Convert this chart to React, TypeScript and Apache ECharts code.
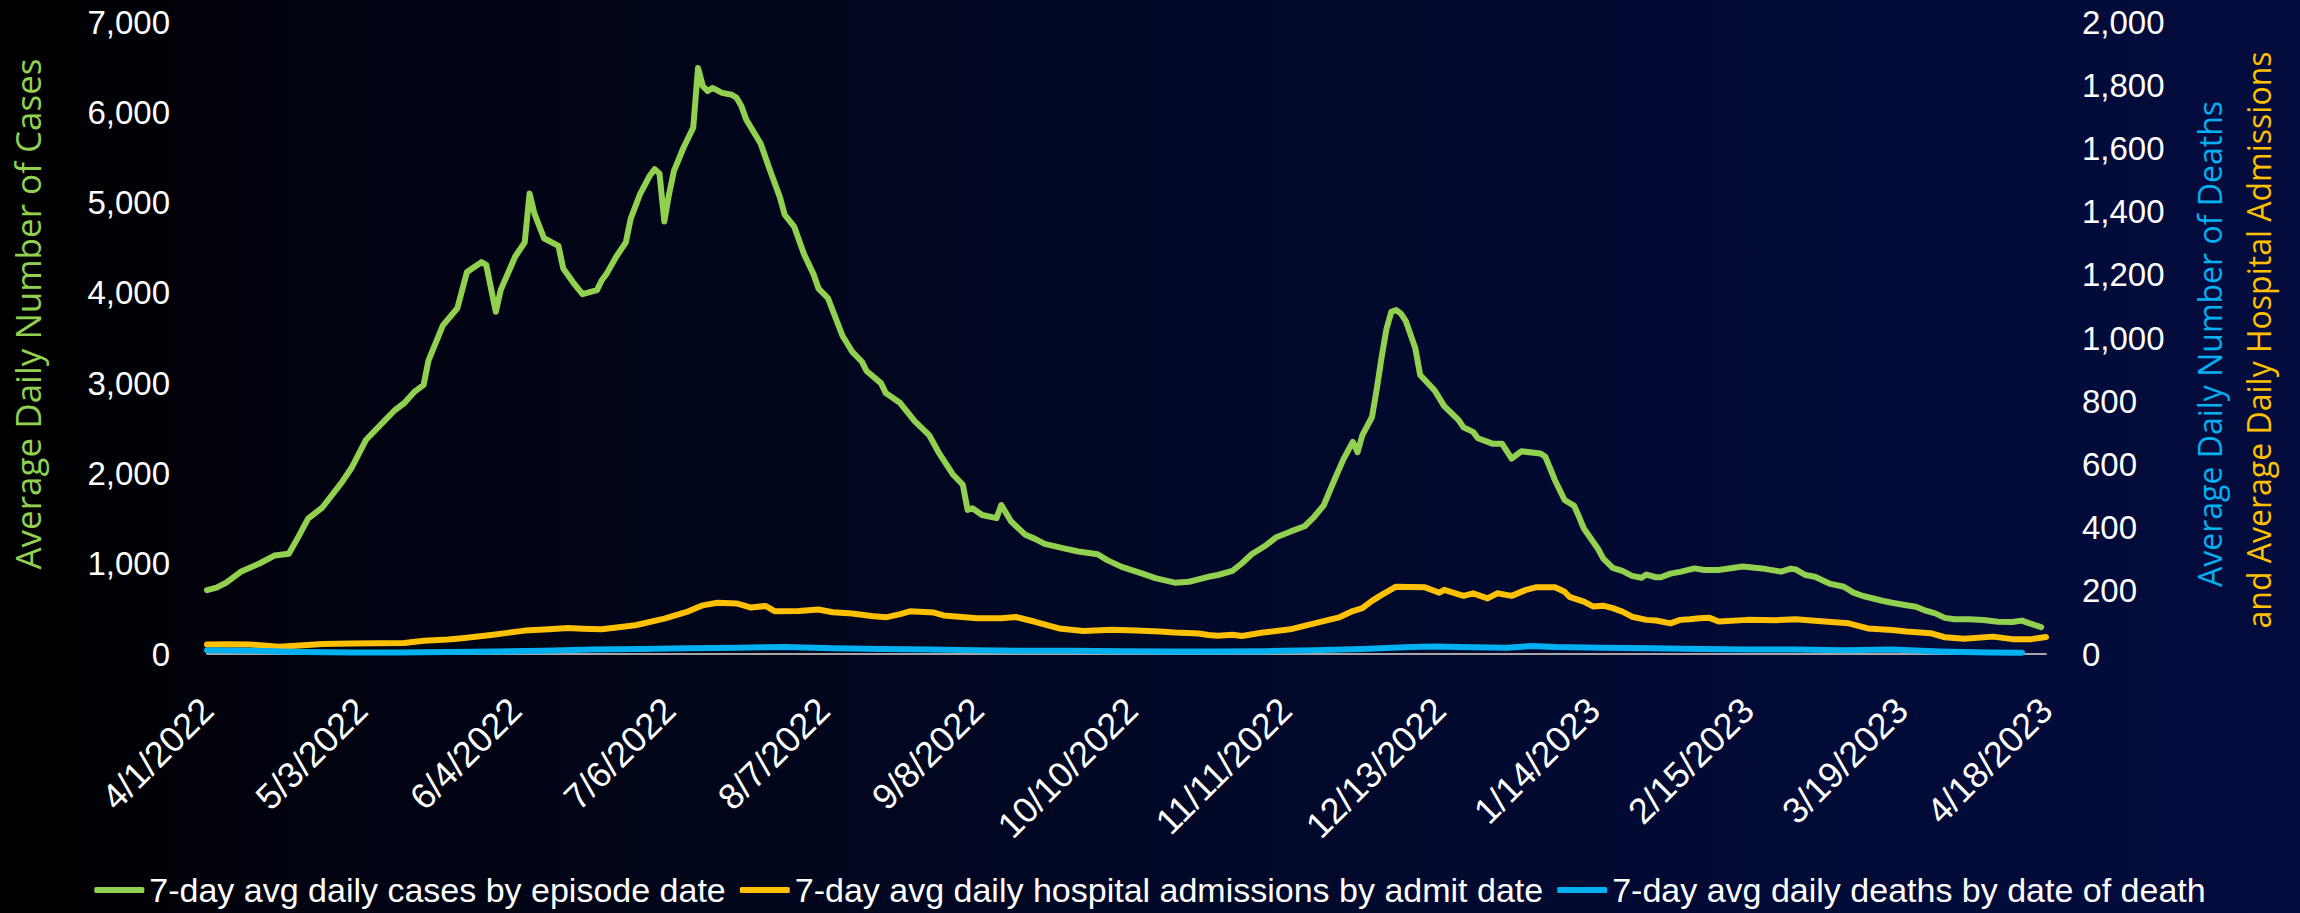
import React, { useEffect, useRef } from 'react';
import * as echarts from 'echarts';

// Day 0 = 4/1/2022, last day 382 = 4/18/2023
const START_UTC = Date.UTC(2022, 3, 1);
const LAST_DAY = 382;
const TICK_STEP_DAYS = 32;

const seriesNames = [
  '7-day avg daily cases by episode date',
  '7-day avg daily hospital admissions by admit date',
  '7-day avg daily deaths by date of death',
];

// 7-day avg daily cases (left axis), day offsets from 4/1/2022
const caseDays = [0, 2, 4, 7, 11, 14, 17, 19, 21, 24, 28, 30, 33, 37, 39, 41, 43, 45, 46, 49, 52, 54, 57, 58, 60, 61, 64, 66, 67, 68, 70, 73, 74, 76, 78, 81, 82, 83, 85, 87, 88, 90, 92, 93, 94, 95, 96, 97, 99, 101, 102, 103, 104, 105, 107, 109, 110, 111, 112, 115, 117, 119, 120, 122, 124, 126, 127, 129, 132, 134, 136, 137, 140, 141, 144, 147, 150, 152, 155, 157, 158, 159, 161, 164, 165, 167, 170, 172, 174, 178, 181, 185, 187, 190, 194, 197, 201, 204, 208, 210, 213, 215, 217, 220, 222, 225, 228, 230, 232, 234, 236, 238, 239, 240, 242, 243, 244, 245, 246, 247, 248, 249, 251, 252, 255, 257, 260, 261, 263, 264, 267, 269, 271, 273, 277, 278, 280, 282, 284, 285, 286, 289, 290, 292, 294, 296, 298, 299, 301, 302, 304, 306, 309, 311, 314, 319, 323, 327, 329, 330, 332, 334, 337, 340, 342, 344, 348, 350, 353, 355, 357, 359, 361, 363, 366, 369, 372, 375, 377, 378, 381];
const caseValues = [708, 735, 790, 910, 1005, 1090, 1110, 1300, 1500, 1625, 1900, 2060, 2370, 2590, 2700, 2780, 2900, 2980, 3250, 3640, 3830, 4230, 4340, 4310, 3790, 4030, 4400, 4560, 5100, 4880, 4605, 4520, 4270, 4120, 3985, 4030, 4140, 4210, 4400, 4560, 4820, 5100, 5300, 5370, 5320, 4790, 5100, 5350, 5610, 5830, 6490, 6290, 6235, 6270, 6215, 6195, 6160, 6070, 5920, 5655, 5350, 5060, 4865, 4730, 4430, 4205, 4050, 3940, 3525, 3350, 3240, 3135, 3000, 2890, 2780, 2580, 2425, 2230, 1985, 1875, 1595, 1615, 1540, 1505, 1650, 1470, 1320, 1275, 1220, 1170, 1135, 1105, 1040, 965, 895, 840, 790, 800, 855, 875, 920, 1005, 1105, 1205, 1290, 1355, 1415, 1520, 1650, 1905, 2150, 2350, 2235, 2425, 2625, 2940, 3290, 3600, 3790, 3810, 3770, 3690, 3385, 3090, 2920, 2745, 2590, 2510, 2460, 2390, 2330, 2330, 2165, 2245, 2220, 2185, 1925, 1705, 1640, 1520, 1390, 1160, 1060, 955, 920, 865, 845, 880, 850, 850, 890, 910, 948, 930, 930, 970, 948, 912, 945, 937, 875, 855, 780, 745, 680, 642, 590, 568, 540, 524, 480, 450, 400, 384, 384, 376, 358, 354, 370, 350, 298];

// 7-day avg daily hospital admissions (right axis)
const admitDays = [0, 4, 9, 15, 20, 24, 30, 35, 41, 45, 50, 53, 59, 62, 66, 71, 75, 78, 82, 89, 95, 100, 103, 106, 110, 113, 116, 118, 123, 127, 130, 134, 138, 141, 144, 146, 151, 153, 160, 165, 168, 172, 177, 182, 188, 193, 198, 201, 206, 208, 210, 213, 215, 219, 225, 229, 233, 235, 238, 240, 242, 244, 247, 253, 256, 257, 261, 263, 266, 268, 271, 274, 276, 280, 282, 283, 286, 288, 290, 292, 294, 296, 299, 301, 304, 306, 308, 310, 312, 314, 320, 326, 330, 336, 341, 345, 350, 353, 358, 361, 365, 371, 375, 379, 382];
const admitValues = [30, 31, 30, 23, 28, 32, 33, 34, 35, 42, 46, 50, 60, 66, 74, 78, 82, 80, 78, 91, 112, 135, 154, 162, 160, 147, 152, 135, 136, 141, 132, 128, 120, 116, 126, 135, 131, 122, 113, 113, 117, 102, 81, 73, 77, 74, 71, 68, 65, 60, 58, 61, 57, 67, 78, 93, 108, 115, 136, 145, 168, 187, 213, 211, 194, 203, 184, 192, 176, 192, 184, 203, 211, 211, 197, 181, 166, 150, 153, 145, 134, 118, 108, 106, 97, 108, 110, 113, 115, 103, 108, 107, 110, 103, 97, 81, 76, 71, 66, 53, 48, 55, 47, 47, 54];

// 7-day avg daily deaths (right axis)
const deathDays = [0, 10, 20, 30, 40, 50, 60, 70, 80, 90, 100, 110, 120, 130, 140, 150, 160, 170, 180, 190, 200, 210, 220, 230, 240, 250, 255, 260, 270, 275, 280, 290, 300, 310, 320, 330, 340, 350, 360, 370, 377];
const deathValues = [12, 10, 6, 5, 5, 6, 8, 10, 14, 16, 18, 20, 22, 18, 16, 14, 12, 10, 10, 9, 8, 8, 9, 12, 16, 22, 24, 22, 20, 25, 22, 20, 18, 16, 14, 14, 12, 14, 8, 5, 4];

const leftAxisTitle = 'Average Daily Number of Cases';
const rightAxisTitle1 = 'Average Daily Number of Deaths';
const rightAxisTitle2 = 'and Average Daily Hospital Admissions';

const GREEN = '#92D050';
const YELLOW = '#FFC000';
const BLUE = '#00B0F0';

const dayLabel = (d: number) => {
  const dt = new Date(START_UTC + Math.round(d) * 86400000);
  return `${dt.getUTCMonth() + 1}/${dt.getUTCDate()}/${dt.getUTCFullYear()}`;
};

const pairs = (xs: number[], ys: number[]) => xs.map((x, i) => [x, ys[i]]);

export default function App() {
  const ref = useRef<HTMLDivElement>(null);
  useEffect(() => {
    document.body.style.margin = '0';
    const chart = echarts.init(ref.current!, undefined, { renderer: 'svg' });
    const labelFont = "'Liberation Sans', Arial, sans-serif";
    const titleFont = "'Open Sans', 'DejaVu Sans', sans-serif";
    chart.setOption({
      animation: false,
      backgroundColor: 'transparent',
      grid: {
        left: 207,
        right: 254,
        top: 22,
        bottom: 259,
        containLabel: false,
        outerBoundsMode: 'none',
      },
      legend: {
        data: seriesNames,
        left: 'center',
        top: 868,
        icon: 'roundRect',
        itemWidth: 50,
        itemHeight: 6,
        itemGap: 14,
        textStyle: { color: '#FFFFFF', fontSize: 34, fontFamily: labelFont },
      },
      xAxis: {
        type: 'value',
        min: 0,
        max: LAST_DAY,
        interval: TICK_STEP_DAYS,
        axisLine: { show: true, onZero: false, lineStyle: { color: '#A6A6A6', width: 2 } },
        axisTick: { show: false },
        splitLine: { show: false },
        axisLabel: {
          rotate: 45,
          margin: 50,
          color: '#FFFFFF',
          fontSize: 36,
          fontFamily: labelFont,
          formatter: (v: number) => dayLabel(v),
        },
      },
      yAxis: [
        {
          type: 'value',
          min: 0,
          max: 7000,
          interval: 1000,
          position: 'left',
          axisLine: { show: false },
          axisTick: { show: false },
          splitLine: { show: false },
          axisLabel: {
            margin: 37,
            color: '#FFFFFF',
            fontSize: 33,
            fontFamily: labelFont,
            formatter: (v: number) => v.toLocaleString('en-US'),
          },
        },
        {
          type: 'value',
          min: 0,
          max: 2000,
          interval: 200,
          position: 'right',
          axisLine: { show: false },
          axisTick: { show: false },
          splitLine: { show: false },
          axisLabel: {
            margin: 36,
            color: '#FFFFFF',
            fontSize: 33,
            fontFamily: labelFont,
            formatter: (v: number) => v.toLocaleString('en-US'),
          },
        },
      ],
      series: [
        {
          name: seriesNames[0],
          type: 'line',
          yAxisIndex: 0,
          data: pairs(caseDays, caseValues),
          symbol: 'none',
          color: GREEN,
          lineStyle: { color: GREEN, width: 6, cap: 'round', join: 'round' },
          z: 4,
        },
        {
          name: seriesNames[1],
          type: 'line',
          yAxisIndex: 1,
          data: pairs(admitDays, admitValues),
          symbol: 'none',
          color: YELLOW,
          lineStyle: { color: YELLOW, width: 6, cap: 'round', join: 'round' },
          z: 3,
        },
        {
          name: seriesNames[2],
          type: 'line',
          yAxisIndex: 1,
          data: pairs(deathDays, deathValues),
          symbol: 'none',
          color: BLUE,
          lineStyle: { color: BLUE, width: 6, cap: 'round', join: 'round' },
          z: 3,
        },
      ],
      graphic: [
        {
          type: 'text',
          x: 27,
          y: 314,
          rotation: Math.PI / 2,
          style: {
            text: leftAxisTitle,
            fill: GREEN,
            font: `35px ${titleFont}`,
            align: 'center',
            verticalAlign: 'middle',
          },
        },
        {
          type: 'text',
          x: 2209,
          y: 344,
          rotation: Math.PI / 2,
          style: {
            text: rightAxisTitle1,
            fill: BLUE,
            font: `32px ${titleFont}`,
            align: 'center',
            verticalAlign: 'middle',
          },
        },
        {
          type: 'text',
          x: 2258,
          y: 340,
          rotation: Math.PI / 2,
          style: {
            text: rightAxisTitle2,
            fill: YELLOW,
            font: `32px ${titleFont}`,
            align: 'center',
            verticalAlign: 'middle',
          },
        },
      ],
    });
    return () => chart.dispose();
  }, []);
  return (
    <div
      ref={ref}
      style={{
        position: 'absolute',
        left: 0,
        top: 0,
        width: 2300,
        height: 913,
        background:
          'linear-gradient(to right, #000000 0%, #010311 15%, #010720 40%, #020a33 70%, #030c3d 100%)',
      }}
    />
  );
}
